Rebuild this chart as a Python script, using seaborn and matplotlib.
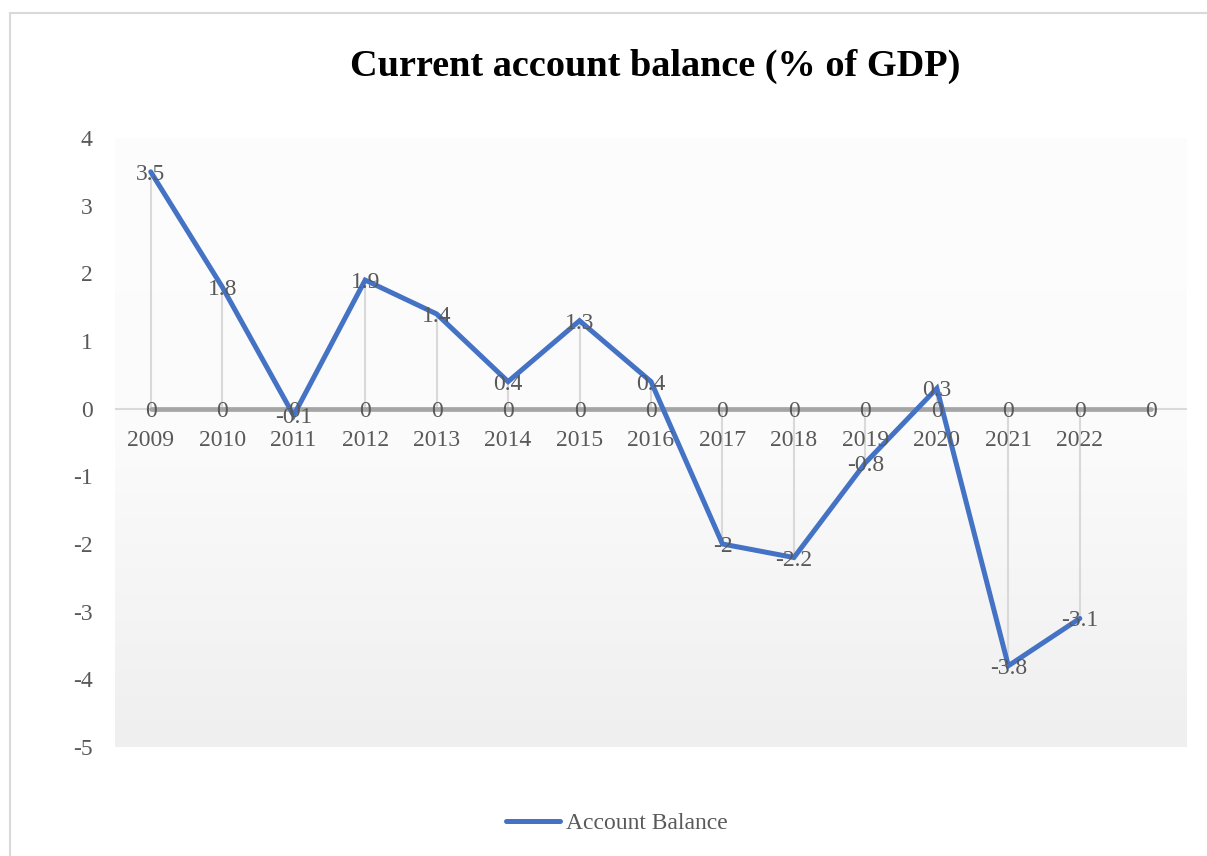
import numpy as np
import pandas as pd
import matplotlib
matplotlib.use("Agg")
import matplotlib.pyplot as plt
import seaborn as sns
from matplotlib.patches import Rectangle
from matplotlib.colors import LinearSegmentedColormap

# ---- data ----
years = ["2009", "2010", "2011", "2012", "2013", "2014", "2015", "2016",
         "2017", "2018", "2019", "2020", "2021", "2022", ""]
balance = [3.5, 1.8, -0.1, 1.9, 1.4, 0.4, 1.3, 0.4, -2, -2.2, -0.8, 0.3, -3.8, -3.1]
zero_series = [0] * 15
yticks = [4, 3, 2, 1, 0, -1, -2, -3, -4, -5]

sns.set_theme(style="white")
plt.rcParams['font.family'] = ['Liberation Serif', 'DejaVu Serif']

W, H = 1207, 856
fig = plt.figure(figsize=(W / 100, H / 100), dpi=100)

# outer chart border
fig.patches.append(Rectangle((10 / W, -0.2), 1.2, (H - 13) / H + 0.2, transform=fig.transFigure,
                             fill=False, edgecolor="#D9D9D9", linewidth=1.5))

ax = fig.add_axes([115 / W, 1 - 747 / H, (1187 - 115) / W, (747 - 138) / H])
ax.set_facecolor("none")
for s in ax.spines.values():
    s.set_visible(False)

x_all = np.arange(len(years))
df_bal = pd.DataFrame({"x": x_all[:len(balance)], "y": balance, "series": "Account Balance"})
df_zero = pd.DataFrame({"x": x_all, "y": zero_series, "series": "Zero"})

# gradient background
cmap = LinearSegmentedColormap.from_list("bg", ["#FDFDFD", "#FBFBFB", "#EFEFEF"])
grad = np.linspace(0, 1, 256).reshape(-1, 1)
ax.imshow(grad, extent=[-0.5, 14.5, -5, 4], aspect="auto", cmap=cmap,
          origin="upper", zorder=0, interpolation="bicubic")

# axis line at zero
ax.axhline(0, color="#D9D9D9", lw=1.5, zorder=1)

# drop lines
ax.vlines(df_bal["x"], 0, df_bal["y"], color="#D9D9D9", lw=1.5, zorder=1)

# zero series
sns.lineplot(data=df_zero, x="x", y="y", ax=ax, color="#A5A5A5", lw=3.4,
             zorder=2, legend=False, sort=False)
# main series
sns.lineplot(data=df_bal, x="x", y="y", ax=ax, color="#4472C4", lw=3.6,
             zorder=3, label="Account Balance", sort=False,
             solid_joinstyle="miter")

lab_col = "#595959"
fs = 17
for xi, v in zip(df_zero["x"], df_zero["y"]):
    ax.text(xi, v, f"{v:g}", ha="center", va="center_baseline", fontsize=fs, color=lab_col, zorder=4)
for xi, v in zip(df_bal["x"], df_bal["y"]):
    ax.text(xi, v, f"{v:g}", ha="center", va="center_baseline", fontsize=fs, color=lab_col, zorder=4)

# category labels positioned under the zero line
for xi, lab in zip(x_all, years):
    ax.annotate(lab, (xi, 0), xytext=(0, -21), textcoords="offset points",
                ha="center", va="center_baseline", fontsize=fs, color=lab_col, zorder=4)

ax.set_xlim(-0.5, 14.5)
ax.set_ylim(-5, 4)
ax.set_xticks([])
ax.set_yticks(yticks)
ax.set_yticklabels([f"{t}" for t in yticks])
ax.tick_params(axis="y", length=0, pad=16, labelsize=fs, labelcolor=lab_col)
ax.set_xlabel("")
ax.set_ylabel("")

fig.text(655 / W, 1 - 62 / H, "Current account balance (% of GDP)", ha="center", va="center_baseline",
         fontsize=27.5, fontweight="bold", color="black")

leg = ax.legend(loc="center", bbox_to_anchor=(617 / W, 1 - 823 / H),
                bbox_transform=fig.transFigure, frameon=False, fontsize=fs,
                handlelength=2.3, handletextpad=0.25)
for t in leg.get_texts():
    t.set_color(lab_col)

fig.savefig("out.png", dpi=100)
